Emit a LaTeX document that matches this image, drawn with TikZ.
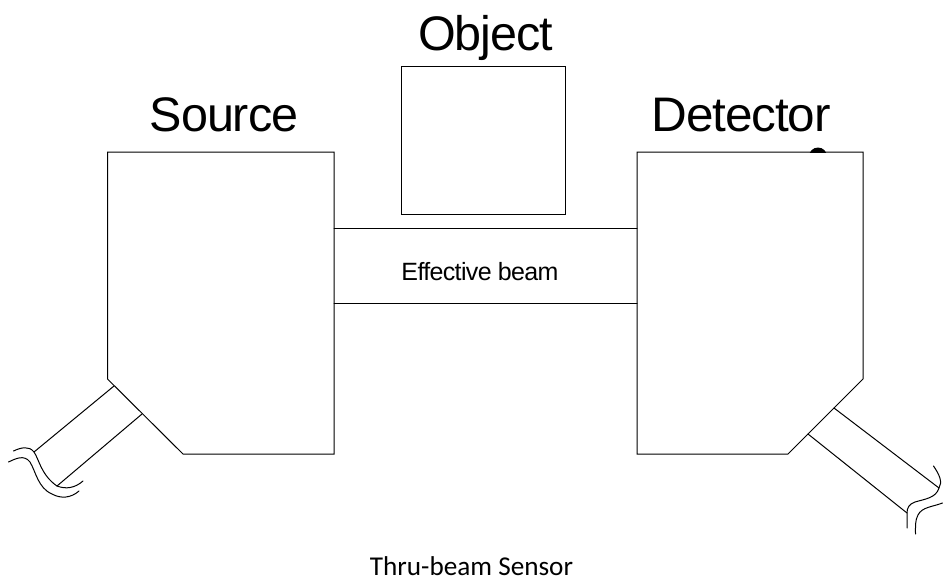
\documentclass[tikz,border=0pt]{standalone}
\usepackage{fontspec}
\setmainfont{Liberation Sans}
\newfontfamily\capfont{Carlito}
\newfontfamily\headfont[LetterSpace=-2.2]{Liberation Sans}
\newfontfamily\beamfont[LetterSpace=-2.6]{Liberation Sans}
\tikzset{
  outline/.style={draw=black,line width=1pt,line join=miter},
  wire/.style={draw=black,line width=1pt,line cap=round},
  biglabel/.style={inner sep=0pt,anchor=base,text=black,font=\headfont\fontsize{48.5}{50}\selectfont},
  smalllabel/.style={inner sep=0pt,anchor=base,text=black,font=\beamfont\fontsize{25}{27}\selectfont},
  caption/.style={inner sep=0pt,anchor=base,text=black,font=\capfont\fontsize{27.2}{30}\selectfont}
}
\begin{document}
\begin{tikzpicture}[x=1pt,y=-1pt]
\useasboundingbox (0,0) rectangle (943,581);
% blob behind the detector's top edge
\begin{scope}
\clip (800,140) rectangle (840,152);
\fill[black] (818,156.5) circle (9);
\end{scope}
% bodies
\draw[outline] (107.5,152) -- (334,152) -- (334,454) -- (183,454) -- (107.5,379) -- cycle;
\draw[outline] (637,152) -- (863,152) -- (863,379) -- (788,454) -- (637,454) -- cycle;
\draw[outline] (401.5,66.5) rectangle (565,214);
% beam
\coordinate (beamAL) at (334,228); \coordinate (beamAR) at (637,228);
\coordinate (beamBL) at (334,303); \coordinate (beamBR) at (637,303);
\draw[wire] (beamAL) -- (beamAR);
\draw[wire] (beamBL) -- (beamBR);
% source cable
\draw[wire] (114,386) -- (34,452);
\draw[wire] (142,414) -- (57,486);
\draw[wire] (13.5,451) .. controls (21,447.5) and (29,445.5) .. (34,452)
  .. controls (39,459) and (41,475) .. (57,486)
  .. controls (66,489.5) and (75,488) .. (83,481);
\draw[wire] (8.5,462) .. controls (15,459) and (24,454) .. (30,462)
  .. controls (36,472) and (38,488) .. (52,494)
  .. controls (61,499) and (71,498) .. (79,491);
% detector cable
\draw[wire] (834,408) -- (939,488);
\draw[wire] (808,434) -- (907,513);
\draw[wire] (933.5,466) .. controls (939,474) and (943,482) .. (939,488)
  .. controls (936,498) and (925,499) .. (915,502)
  .. controls (909,504) and (907,508) .. (907,513) -- (907,528);
\draw[wire] (942.5,503) .. controls (932,507) and (922,507) .. (918,515)
  .. controls (915,520) and (915.5,527) .. (915.5,534);
% labels
\node[biglabel] (source) at (224,131) {Source};
\node[biglabel] (object) at (485.5,50) {Object};
\node[biglabel,xscale=1.02] (detector) at (741,131.5) {Detector};
\node[smalllabel] (beam) at (480,280) {Effective beam};
\node[caption] (cap) at (471.5,575) {Thru-beam Sensor};
\end{tikzpicture}
\end{document}
